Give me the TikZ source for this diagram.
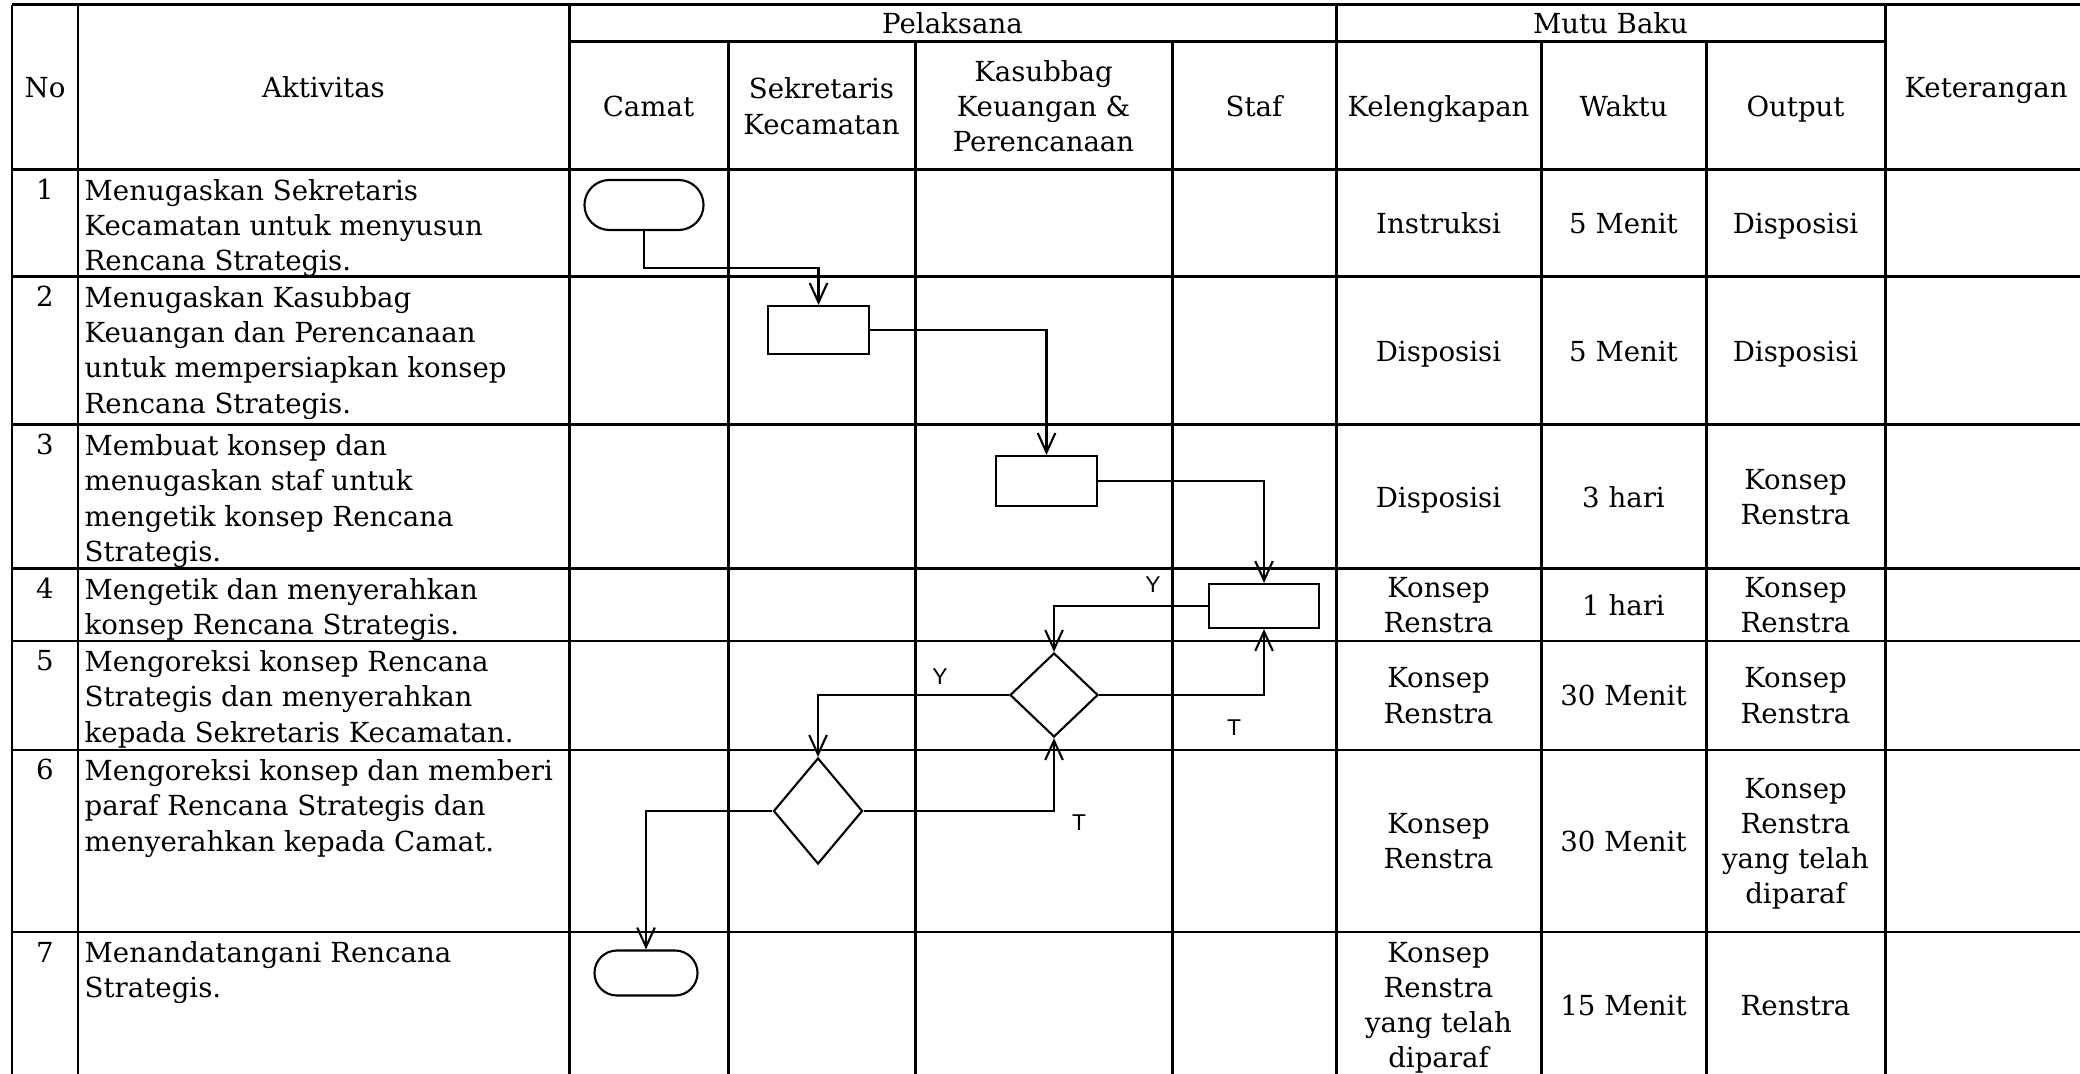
\documentclass[tikz,border=0pt]{standalone}
\usepackage{fontspec}
\setmainfont{DejaVu Serif}
\newfontfamily\labelfont{Liberation Sans}
\usetikzlibrary{shapes, arrows.meta}

\begin{document}
\begin{tikzpicture}[x=0.01cm, y=-0.01cm, font=\fontsize{7.85}{10}\selectfont]
	\tikzstyle{gridline}=[line width=0.85pt]
	\tikzstyle{proc}=[rectangle, draw=black, line width=0.6pt, inner sep=0pt, minimum width=1.01cm, minimum height=0.48cm]
	\tikzstyle{term}=[rounded rectangle, draw=black, line width=0.6pt, inner sep=0pt, minimum width=1.19cm, minimum height=0.5cm]
	\tikzstyle{dec}=[diamond, draw=black, line width=0.6pt, inner sep=0pt, minimum width=0.88cm, minimum height=0.84cm]
	\tikzstyle{flow}=[line width=0.6pt, -{Straight Barb[length=5.5pt, width=5pt]}]
	\tikzstyle{cell}=[align=center, inner sep=0pt, text depth=0pt]
	\tikzstyle{acttext}=[align=left, anchor=north west, inner sep=0pt]
	\tikzstyle{numtext}=[anchor=base, inner sep=0pt]
	\tikzstyle{yt}=[inner sep=0pt, font=\labelfont\fontsize{6.5}{8}\selectfont]

	\useasboundingbox (0,0) rectangle (2080,1074);

	% table lines
	\draw[gridline] (12,5) -- (2090,5);
	\draw[gridline] (569,42) -- (1885,42);
	\draw[gridline] (12,170) -- (2090,170);
	\draw[gridline] (12,277) -- (2090,277);
	\draw[gridline] (12,425) -- (2090,425);
	\draw[gridline] (12,569) -- (2090,569);
	\draw[gridline] (12,641) -- (2090,641);
	\draw[gridline] (12,750) -- (2090,750);
	\draw[gridline] (12,932) -- (2090,932);

	\draw[gridline] (12,5) -- (12,1090);
	\draw[gridline] (78,5) -- (78,1090);
	\draw[gridline] (569,5) -- (569,1090);
	\draw[gridline] (1336,5) -- (1336,1090);
	\draw[gridline] (1885,5) -- (1885,1090);
	\draw[gridline] (728,42) -- (728,1090);
	\draw[gridline] (915,42) -- (915,1090);
	\draw[gridline] (1172,42) -- (1172,1090);
	\draw[gridline] (1541,42) -- (1541,1090);
	\draw[gridline] (1706,42) -- (1706,1090);

	% header
	\node (hno) at (45,87.5) [cell]{No};
	\node (hakt) at (323.5,87.5) [cell]{Aktivitas};
	\node (hpel) at (952.5,23.5) [cell]{Pelaksana};
	\node (hmutu) at (1610.5,23.5) [cell]{Mutu Baku};
	\node (hket) at (1986,87.5) [cell]{Keterangan};
	\node (hcamat) at (648.5,106) [cell]{Camat};
	\node (hsekcam) at (821.5,106) [cell]{Sekretaris\\Kecamatan};
	\node (hkasub) at (1043.5,106) [cell]{Kasubbag\\Keuangan \&\\Perencanaan};
	\node (hstaf) at (1254,106) [cell]{Staf};
	\node (hkel) at (1438.5,106) [cell]{Kelengkapan};
	\node (hwkt) at (1623.5,106) [cell]{Waktu};
	\node (hout) at (1795.5,106) [cell]{Output};

	% nomor dan aktivitas
	\node (no1) at (45,200) [numtext]{1};
	\node (no2) at (45,307) [numtext]{2};
	\node (no3) at (45,455) [numtext]{3};
	\node (no4) at (45,599) [numtext]{4};
	\node (no5) at (45,671) [numtext]{5};
	\node (no6) at (45,780) [numtext]{6};
	\node (no7) at (45,962) [numtext]{7};

	\node (akt1) at (84,179) [acttext]{Menugaskan Sekretaris\\Kecamatan untuk menyusun\\Rencana Strategis.};
	\node (akt2) at (84,286) [acttext]{Menugaskan Kasubbag\\Keuangan dan Perencanaan\\untuk mempersiapkan konsep\\Rencana Strategis.};
	\node (akt3) at (84,434) [acttext]{Membuat konsep dan\\menugaskan staf untuk\\mengetik konsep Rencana\\Strategis.};
	\node (akt4) at (84,578) [acttext]{Mengetik dan menyerahkan\\konsep Rencana Strategis.};
	\node (akt5) at (84,650) [acttext]{Mengoreksi konsep Rencana\\Strategis dan menyerahkan\\kepada Sekretaris Kecamatan.};
	\node (akt6) at (84,759) [acttext]{Mengoreksi konsep dan memberi\\paraf Rencana Strategis dan\\menyerahkan kepada Camat.};
	\node (akt7) at (84,941) [acttext]{Menandatangani Rencana\\Strategis.};

	% mutu baku
	\node (kel1) at (1438.5,223.5) [cell]{Instruksi};
	\node (wkt1) at (1623.5,223.5) [cell]{5 Menit};
	\node (out1) at (1795.5,223.5) [cell]{Disposisi};
	\node (kel2) at (1438.5,351) [cell]{Disposisi};
	\node (wkt2) at (1623.5,351) [cell]{5 Menit};
	\node (out2) at (1795.5,351) [cell]{Disposisi};
	\node (kel3) at (1438.5,497) [cell]{Disposisi};
	\node (wkt3) at (1623.5,497) [cell]{3 hari};
	\node (out3) at (1795.5,497) [cell]{Konsep\\Renstra};
	\node (kel4) at (1438.5,605) [cell]{Konsep\\Renstra};
	\node (wkt4) at (1623.5,605) [cell]{1 hari};
	\node (out4) at (1795.5,605) [cell]{Konsep\\Renstra};
	\node (kel5) at (1438.5,695.5) [cell]{Konsep\\Renstra};
	\node (wkt5) at (1623.5,695.5) [cell]{30 Menit};
	\node (out5) at (1795.5,695.5) [cell]{Konsep\\Renstra};
	\node (kel6) at (1438.5,841) [cell]{Konsep\\Renstra};
	\node (wkt6) at (1623.5,841) [cell]{30 Menit};
	\node (out6) at (1795.5,841) [cell]{Konsep\\Renstra\\yang telah\\diparaf};
	\node (kel7) at (1438.5,1005) [cell]{Konsep\\Renstra\\yang telah\\diparaf};
	\node (wkt7) at (1623.5,1005) [cell]{15 Menit};
	\node (out7) at (1795.5,1005) [cell]{Renstra};

	% bagan alir
	\node (t1) at (644,205) [term]{};
	\node (b2) at (818.5,330) [proc]{};
	\node (b3) at (1046.5,481) [proc, minimum height=0.5cm]{};
	\node (b4) at (1264,606) [proc, minimum width=1.1cm, minimum height=0.44cm]{};
	\node (d5) at (1054,695) [dec]{};
	\node (d6) at (818,811) [dec, minimum width=0.89cm, minimum height=1.06cm]{};
	\node (t7) at (646,973) [term, minimum width=1.03cm, minimum height=0.45cm]{};

	\draw[flow] (t1.south) -- ++(0,37) -| (b2.north);
	\draw[flow] (b2.east) -| (b3.north);
	\draw[flow] (b3.east) -| (b4.north);
	\draw[flow] (b4.west) -| (d5.north);
	\draw[flow] (d5.west) -| (d6.north);
	\draw[flow] (d5.east) -| (b4.south);
	\draw[flow] (d6.east) -| (d5.south);
	\draw[flow] (d6.west) -| (t7.north);

	\node (y4) at (1153,585) [yt]{Y};
	\node (y5) at (940,677) [yt]{Y};
	\node (tt5) at (1234,728) [yt]{T};
	\node (tt6) at (1079,823) [yt]{T};
\end{tikzpicture}
\end{document}
